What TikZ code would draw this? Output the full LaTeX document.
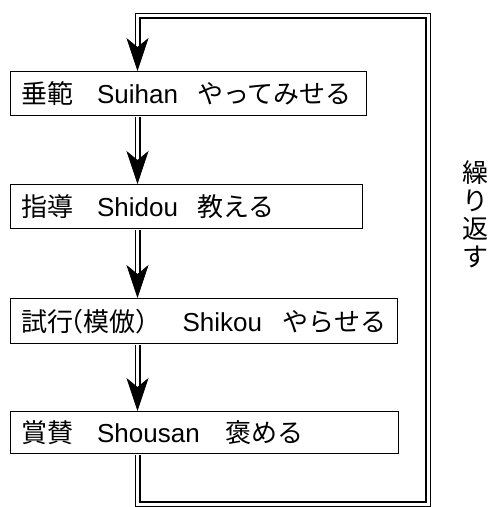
\documentclass[tikz,border=0pt]{standalone}
\usepackage{fontspec}
\setmainfont{Liberation Sans}
\newfontfamily\jp{Noto Sans CJK JP}
\usetikzlibrary{arrows.meta}
\tikzset{
  box/.style={draw=black, line width=1.3pt, rectangle, anchor=north west,
    inner xsep=11pt, inner ysep=0pt, align=left,
    font=\fontsize{26}{30}\selectfont},
  dbl/.style={draw=black, double=white, line width=1.5pt, double distance=3pt,
    line join=miter, shorten <=0.65pt},
  headw/.style={draw=white, line width=0.8pt, shorten <=1pt,
    -{Stealth[length=33pt, width=22pt, inset=9pt, color=black]}},
}
\begin{document}
\begin{tikzpicture}[x=1pt, y=1pt]
\useasboundingbox (0,0) rectangle (489,-507);
\node[box, minimum width=356pt, minimum height=44pt, text width=334pt] (b1) at (10,-71)
  {\makebox[75.5pt][l]{\jp 垂範}\makebox[100pt][l]{Suihan}{\jp やってみせる}};
\node[box, minimum width=352pt, minimum height=44pt, text width=330pt] (b2) at (10,-184)
  {\makebox[75.5pt][l]{\jp 指導}\makebox[100pt][l]{Shidou}{\jp 教える}};
\node[box, minimum width=387pt, minimum height=45pt, text width=365pt] (b3) at (10,-298)
  {\makebox[161pt][l]{\jp 試行\makebox[10pt][r]{（}模倣\makebox[13pt][l]{）}}\makebox[100pt][l]{Shikou}{\jp やらせる}};
\node[box, minimum width=388pt, minimum height=42pt, text width=366pt] (b4) at (10,-411)
  {\makebox[75.5pt][l]{\jp 賞賛}\makebox[128.5pt][l]{Shousan}{\jp 褒める}};
\node[font=\jp\fontsize{26}{28}\selectfont, align=center, inner sep=0pt] (rep) at (475,-214)
  {繰\\り\\返\\す};
\coordinate (ax) at (137.5,0);
\coordinate (lb) at (137.5,-504);
\coordinate (rb) at (428,-504);
\coordinate (rt) at (428,-15.5);
\coordinate (lt) at (137.5,-15.5);
% arrows between boxes
\draw[dbl, shorten >=22pt] (b1.south -| ax) -- (b2.north -| ax);
\draw[headw] (b1.south -| ax) -- (b2.north -| ax);
\draw[dbl, shorten >=22pt] (b2.south -| ax) -- (b3.north -| ax);
\draw[headw] (b2.south -| ax) -- (b3.north -| ax);
\draw[dbl, shorten >=22pt] (b3.south -| ax) -- (b4.north -| ax);
\draw[headw] (b3.south -| ax) -- (b4.north -| ax);
% loop
\draw[dbl, shorten >=22pt] (b4.south -| ax) -- (lb) -- (rb) -- (rt) -- (lt) -- (b1.north -| ax);
\draw[headw] (lt) -- (b1.north -| ax);
\end{tikzpicture}
\end{document}
